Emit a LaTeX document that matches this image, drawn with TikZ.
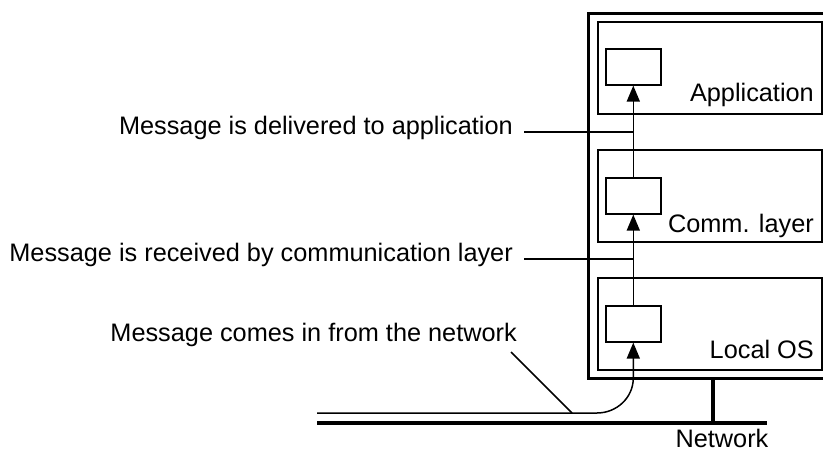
\documentclass[tikz,border=0pt]{standalone}
\usepackage{fontspec}
\setmainfont{Liberation Sans}
\usepackage{tikz}
\usetikzlibrary{arrows.meta}

\begin{document}
\begin{tikzpicture}[x=1pt, y=-1pt, font=\fontsize{25.3}{29}\selectfont]
    % Define styles
    \tikzset{
        host/.style = {draw, line width=2.8pt, anchor=north west, minimum width=240pt, minimum height=365pt, inner sep=0pt},
        layer/.style = {draw, line width=1.7pt, anchor=north west, minimum width=224pt, minimum height=92pt, inner sep=0pt},
        msgbox/.style = {draw, line width=1.6pt, anchor=north west, minimum width=55pt, minimum height=36pt, inner sep=0pt},
        layername/.style = {anchor=base east, inner sep=0pt},
        remark/.style = {inner sep=0pt},
        flow/.style = {line width=1.5pt, -{Triangle[length=16pt, width=13pt]}},
        lead/.style = {line width=1.5pt},
        bus/.style = {line width=4.5pt}
    }
    \clip (0,0) rectangle (823,452);

    % Host with its layers
    \node[host] (host) at (587,12) {};
    \node[layer] (app) at (597,21) {};
    \node[layer] (comm) at (597,149) {};
    \node[layer] (los) at (597,277) {};
    \node[layername] (appname) at (814,102) {Application};
    \node[layername] (commname) at (814,232) {Comm. layer};
    \node[layername] (losname) at (814,358) {Local OS};

    % Message boxes
    \node[msgbox] (mapp) at (605,48) {};
    \node[msgbox] (mcomm) at (605,177) {};
    \node[msgbox] (mlos) at (605,305) {};

    % Network
    \coordinate (netA) at (317,423);
    \coordinate (netB) at (767,423);
    \coordinate (tap) at (713,423);
    \coordinate (wireA) at (317,413);
    \coordinate (hit) at (572,413);
    \draw[bus] (netA) -- (netB);
    \draw[line width=3.2pt] (tap |- host.south) -- (tap);
    \node[inner sep=0pt, anchor=base] (netname) at (722,447) {Network};

    % Message path
    \draw[flow] (wireA) -- (597,413) to[out=0, in=-90] (mlos.south |- 0,378) -- (mlos.south);
    \draw[flow] (mlos.north) -- (mcomm.south);
    \draw[flow] (mcomm.north) -- (mapp.south);

    % Remarks
    \node[remark, anchor=mid east] (dlv) at (513,132) {Message is delivered to application};
    \node[remark, anchor=mid east] (rcv) at (513,259) {Message is received by communication layer};
    \node[remark, anchor=base east] (cms) at (517,341) {Message comes in from the network};
    \draw[lead] ([xshift=11pt]dlv.mid east) -- (dlv.mid east -| mapp.south);
    \draw[lead] ([xshift=11pt]rcv.mid east) -- (rcv.mid east -| mcomm.south);
    \draw[lead] ([xshift=-6pt, yshift=-11pt]cms.base east) -- (hit);
\end{tikzpicture}
\end{document}
